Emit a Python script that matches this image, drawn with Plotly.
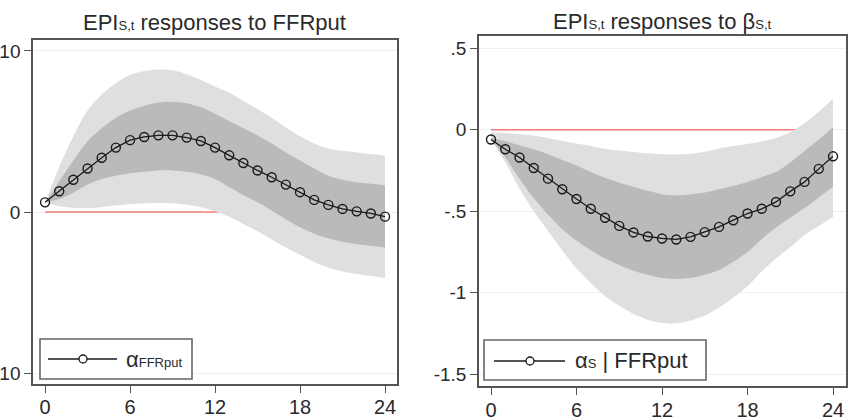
import plotly.graph_objects as go

# ---------------- data ----------------
horizon = list(range(25))
x_ticks = [0, 6, 12, 18, 24]

# Left panel: EPI responses to FFRput
left_mean = [0.6, 1.29, 2.0, 2.7, 3.37, 4.0, 4.46, 4.66, 4.76, 4.76, 4.62, 4.41, 4.0,
             3.52, 3.04, 2.58, 2.16, 1.7, 1.23, 0.75, 0.44, 0.19, 0.04, -0.09, -0.29]
left_outer_hi = [0.6, 2.8, 4.7, 6.3, 7.3, 8.0, 8.5, 8.75, 8.85, 8.8, 8.55, 8.2, 7.8,
                 7.4, 6.9, 6.4, 5.85, 5.25, 4.7, 4.25, 3.95, 3.8, 3.7, 3.6, 3.5]
left_inner_hi = [0.6, 1.9, 3.2, 4.4, 5.2, 5.85, 6.3, 6.6, 6.8, 6.85, 6.75, 6.5, 6.1,
                 5.65, 5.2, 4.75, 4.25, 3.7, 3.2, 2.7, 2.25, 2.0, 1.85, 1.75, 1.65]
left_inner_lo = [0.6, 0.8, 1.2, 1.7, 2.05, 2.25, 2.4, 2.5, 2.58, 2.58, 2.5, 2.35, 2.05,
                 1.55, 1.05, 0.6, 0.1, -0.45, -0.95, -1.35, -1.65, -1.85, -2.0, -2.1, -2.2]
left_outer_lo = [0.6, 0.35, 0.25, 0.25, 0.3, 0.4, 0.48, 0.54, 0.56, 0.54, 0.45, 0.3, 0.05,
                 -0.3, -0.75, -1.2, -1.7, -2.2, -2.65, -3.1, -3.45, -3.7, -3.85, -3.98, -4.1]
left_yticks = [-10, 0, 10]
left_yticktext = ["-10", "0", "10"]

# Right panel: EPI responses to beta
right_mean = [-0.06, -0.12, -0.17, -0.235, -0.30, -0.365, -0.425, -0.485, -0.54, -0.59,
              -0.63, -0.655, -0.667, -0.673, -0.657, -0.628, -0.596, -0.555, -0.514,
              -0.485, -0.443, -0.378, -0.32, -0.24, -0.163]
right_outer_hi = [-0.015, -0.02, -0.027, -0.035, -0.05, -0.068, -0.085, -0.1, -0.117,
                  -0.128, -0.137, -0.145, -0.15, -0.152, -0.148, -0.135, -0.115, -0.1,
                  -0.088, -0.07, -0.05, -0.015, 0.04, 0.11, 0.19]
right_inner_hi = [-0.05, -0.07, -0.095, -0.12, -0.15, -0.185, -0.22, -0.26, -0.295,
                  -0.325, -0.35, -0.375, -0.395, -0.402, -0.397, -0.385, -0.365, -0.345,
                  -0.32, -0.29, -0.26, -0.2, -0.13, -0.06, 0.016]
right_inner_lo = [-0.06, -0.17, -0.3, -0.42, -0.52, -0.61, -0.68, -0.74, -0.79, -0.83,
                  -0.865, -0.89, -0.91, -0.915, -0.91, -0.89, -0.86, -0.81, -0.75, -0.67,
                  -0.6, -0.54, -0.48, -0.415, -0.35]
right_outer_lo = [-0.06, -0.2, -0.36, -0.5, -0.62, -0.74, -0.85, -0.94, -1.02, -1.08,
                  -1.13, -1.165, -1.185, -1.187, -1.17, -1.14, -1.09, -1.03, -0.96, -0.87,
                  -0.79, -0.72, -0.645, -0.59, -0.535]
right_yticks = [-1.5, -1, -0.5, 0, 0.5]
right_yticktext = ["-1.5", "-1", "-.5", "0", ".5"]

zero_line = [0] * len(horizon)

# ---------------- styles ----------------
W, H = 853, 420
FONT = "Liberation Sans, Arial, sans-serif"
TXT = "#2a2a2a"
LIGHT = "rgb(223,223,223)"
DARK = "rgb(186,186,186)"
RED = "rgb(240,125,125)"
FRAME = "#555555"

fig = go.Figure()


def add_panel(xa, ya, mean, ohi, ihi, ilo, olo):
    fig.add_trace(go.Scatter(x=horizon, y=zero_line, mode="lines",
                             line=dict(color=RED, width=1.6),
                             xaxis=xa, yaxis=ya, showlegend=False, hoverinfo="skip"))
    fig.add_trace(go.Scatter(x=horizon, y=olo, mode="lines",
                             line=dict(width=0, shape="spline", smoothing=0.8),
                             xaxis=xa, yaxis=ya, showlegend=False, hoverinfo="skip"))
    fig.add_trace(go.Scatter(x=horizon, y=ohi, mode="lines", fill="tonexty",
                             fillcolor=LIGHT,
                             line=dict(width=0, shape="spline", smoothing=0.8),
                             xaxis=xa, yaxis=ya, showlegend=False, hoverinfo="skip"))
    fig.add_trace(go.Scatter(x=horizon, y=ilo, mode="lines",
                             line=dict(width=0, shape="spline", smoothing=0.8),
                             xaxis=xa, yaxis=ya, showlegend=False, hoverinfo="skip"))
    fig.add_trace(go.Scatter(x=horizon, y=ihi, mode="lines", fill="tonexty",
                             fillcolor=DARK,
                             line=dict(width=0, shape="spline", smoothing=0.8),
                             xaxis=xa, yaxis=ya, showlegend=False, hoverinfo="skip"))
    fig.add_trace(go.Scatter(x=horizon, y=mean, mode="lines+markers",
                             line=dict(color="#1a1a1a", width=1.3),
                             marker=dict(symbol="circle-open", size=9,
                                         line=dict(color="#1a1a1a", width=1.4)),
                             xaxis=xa, yaxis=ya, showlegend=False))


add_panel("x", "y", left_mean, left_outer_hi, left_inner_hi, left_inner_lo, left_outer_lo)
add_panel("x2", "y2", right_mean, right_outer_hi, right_inner_hi, right_inner_lo, right_outer_lo)

# plot-area pixel boxes
L = dict(x0=33, x1=396.5, y0=40, y1=384)
R = dict(x0=479, x1=846, y0=36, y1=386)

axis_common = dict(showline=True, mirror=True, linecolor=FRAME, linewidth=1.5,
                   ticks="outside", ticklen=7, tickwidth=1.3, tickcolor=FRAME,
                   zeroline=False, automargin=False)
xfont = dict(family=FONT, size=20, color=TXT)
yfont = dict(family=FONT, size=19, color=TXT)

fig.update_layout(
    template="none",
    width=W, height=H,
    margin=dict(l=0, r=0, t=0, b=0, pad=0, autoexpand=False),
    paper_bgcolor="white", plot_bgcolor="white",
    font=dict(family=FONT, color=TXT),
    showlegend=False,
    xaxis=dict(domain=[L["x0"] / W, L["x1"] / W], range=[-0.85, 24.81],
               tickvals=x_ticks, showgrid=False, anchor="y", tickfont=xfont,
               ticklabelstandoff=-3, **axis_common),
    yaxis=dict(domain=[1 - L["y1"] / H, 1 - L["y0"] / H], range=[-10.68, 10.68],
               tickvals=left_yticks, ticktext=left_yticktext, showgrid=True,
               gridcolor="#eeeeee", gridwidth=1, anchor="x", tickfont=yfont,
               **axis_common),
    xaxis2=dict(domain=[R["x0"] / W, R["x1"] / W], range=[-0.842, 24.91],
                tickvals=x_ticks, showgrid=False, anchor="y2", tickfont=xfont,
                ticklabelstandoff=-2, **axis_common),
    yaxis2=dict(domain=[1 - R["y1"] / H, 1 - R["y0"] / H], range=[-1.572, 0.575],
                tickvals=right_yticks, ticktext=right_yticktext, showgrid=True,
                gridcolor="#eeeeee", gridwidth=1, anchor="x2", tickfont=yfont,
                **axis_common),
)

SUB = '<span style="font-size:{}px">{}</span>'

# titles
fig.add_annotation(text="EPI" + SUB.format(13, "S,t") + " responses to FFRput",
                   xref="paper", yref="paper", x=(L["x0"] + L["x1"]) / 2 / W,
                   y=1 - 22 / H, xanchor="center", yanchor="middle", showarrow=False,
                   font=dict(family=FONT, size=22, color=TXT))
fig.add_annotation(text="EPI" + SUB.format(13, "S,t") + " responses to β" + SUB.format(13, "S,t"),
                   xref="paper", yref="paper", x=(R["x0"] + R["x1"]) / 2 / W,
                   y=1 - 21 / H, xanchor="center", yanchor="middle", showarrow=False,
                   font=dict(family=FONT, size=22, color=TXT))


# legends drawn as boxes inside each plot
def legend_box(xref, yref, box, px, label):
    w = box["x1"] - box["x0"]
    h = box["y1"] - box["y0"]
    fx = lambda p: (p - box["x0"]) / w
    fy = lambda p: (box["y1"] - p) / h
    bx0, bx1, by0, by1, lx0, lx1, cx, ly, tx = px
    fig.add_shape(type="rect", xref=xref, yref=yref,
                  x0=fx(bx0), x1=fx(bx1), y0=fy(by1), y1=fy(by0),
                  line=dict(color="#666666", width=1.6), fillcolor="white", layer="above")
    fig.add_shape(type="line", xref=xref, yref=yref,
                  x0=fx(lx0), x1=fx(lx1), y0=fy(ly), y1=fy(ly),
                  line=dict(color="#1a1a1a", width=1.3), layer="above")
    fig.add_shape(type="circle", xref=xref, yref=yref,
                  xsizemode="pixel", ysizemode="pixel",
                  xanchor=fx(cx), yanchor=fy(ly), x0=-4, x1=4, y0=-4, y1=4,
                  line=dict(color="#1a1a1a", width=1.3), fillcolor="white", layer="above")
    fig.add_annotation(text=label, xref=xref, yref=yref, x=fx(tx), y=fy(ly),
                       xanchor="left", yanchor="middle", showarrow=False,
                       font=dict(family=FONT, size=22, color=TXT))


legend_box("x domain", "y domain", L, (40, 192, 339, 379, 48, 117, 83, 359, 124),
           "α" + SUB.format(13, "FFRput"))
legend_box("x2 domain", "y2 domain", R, (484, 706, 340, 380, 494, 565, 530, 361, 573),
           "α" + SUB.format(13, "S") + " | FFRput")

fig.write_html("out.html")
